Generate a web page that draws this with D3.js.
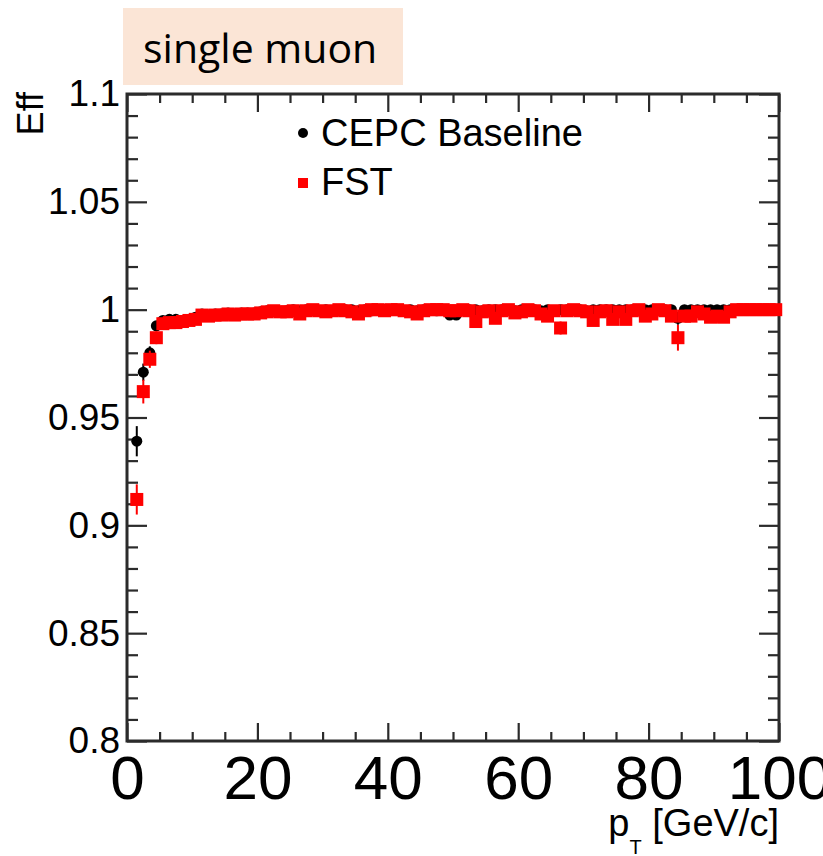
<!DOCTYPE html>
<html>
<head>
<meta charset="utf-8">
<script src="https://cdn.jsdelivr.net/npm/d3@7"></script>
<style>
  body { margin: 0; background: #fff; }
  svg { display: block; }
</style>
</head>
<body>
<svg id="chart" width="823" height="856"></svg>
<script>
// bin centres in pT [GeV/c]
var ptBins = [1.5, 2.5, 3.5, 4.5, 5.5, 6.5, 7.5, 8.5, 9.5, 10.5,
  11.5, 12.5, 13.5, 14.5, 15.5, 16.5, 17.5, 18.5, 19.5, 20.5,
  21.5, 22.5, 23.5, 24.5, 25.5, 26.5, 27.5, 28.5, 29.5, 30.5,
  31.5, 32.5, 33.5, 34.5, 35.5, 36.5, 37.5, 38.5, 39.5, 40.5,
  41.5, 42.5, 43.5, 44.5, 45.5, 46.5, 47.5, 48.5, 49.5, 50.5,
  51.5, 52.5, 53.5, 54.5, 55.5, 56.5, 57.5, 58.5, 59.5, 60.5,
  61.5, 62.5, 63.5, 64.5, 65.5, 66.5, 67.5, 68.5, 69.5, 70.5,
  71.5, 72.5, 73.5, 74.5, 75.5, 76.5, 77.5, 78.5, 79.5, 80.5,
  81.5, 82.5, 83.5, 84.5, 85.5, 86.5, 87.5, 88.5, 89.5, 90.5,
  91.5, 92.5, 93.5, 94.5, 95.5, 96.5, 97.5, 98.5, 99.5];

var effBaseline = [0.939, 0.971, 0.980, 0.9925, 0.995, 0.9955, 0.9955, 0.995, 0.9955, 0.9965,
  0.998, 0.9975, 0.998, 0.998, 0.9985, 0.998, 0.9985, 0.9985, 0.9985, 0.999,
  0.9995, 0.9995, 0.999, 0.9995, 1.0, 0.9995, 1.0, 1.0, 0.9995, 1.0,
  0.9995, 1.0, 1.0, 1.0, 0.9995, 1.0, 0.9995, 1.0, 1.0, 1.0,
  1.0, 0.9995, 1.0, 0.9995, 1.0, 1.0, 0.9995, 1.0, 0.9975, 0.9975,
  1.0, 1.0, 1.0, 0.9995, 1.0, 1.0, 1.0, 1.0, 0.9995, 1.0,
  1.0, 1.0, 0.9995, 1.0, 0.9995, 1.0, 1.0, 1.0, 1.0, 0.9995,
  1.0, 1.0, 1.0, 1.0, 1.0, 1.0, 1.0, 1.0, 1.0, 1.0,
  1.0, 1.0, 1.0, 0.996, 1.0, 1.0, 1.0, 1.0, 1.0, 1.0,
  1.0, 1.0, 1.0, 1.0, 1.0, 1.0, 1.0, 1.0, 1.0];

var errBaseline = [0.007, 0.004, 0.003, 0.002, 0.0015, 0.0015, 0.0015, 0.0015, 0.0015, 0.001,
  0.001, 0.001, 0.001, 0.001, 0.001, 0.001, 0.001, 0.001, 0.001, 0.001,
  0.001, 0.001, 0.001, 0.001, 0.001, 0.001, 0.001, 0.001, 0.001, 0.001,
  0.001, 0.001, 0.001, 0.001, 0.001, 0.001, 0.001, 0.001, 0.001, 0.001,
  0.001, 0.001, 0.001, 0.001, 0.001, 0.001, 0.001, 0.001, 0.002, 0.002,
  0.001, 0.001, 0.001, 0.001, 0.001, 0.001, 0.001, 0.001, 0.001, 0.001,
  0.001, 0.001, 0.001, 0.001, 0.001, 0.001, 0.001, 0.001, 0.001, 0.001,
  0.001, 0.001, 0.001, 0.001, 0.001, 0.001, 0.001, 0.001, 0.001, 0.001,
  0.001, 0.001, 0.001, 0.003, 0.001, 0.001, 0.001, 0.001, 0.001, 0.001,
  0.001, 0.001, 0.001, 0.001, 0.001, 0.001, 0.001, 0.001, 0.001];

var effFST = [0.912, 0.962, 0.977, 0.987, 0.9935, 0.994, 0.994, 0.9945, 0.995, 0.9955,
  0.9975, 0.997, 0.9975, 0.9975, 0.998, 0.9975, 0.998, 0.998, 0.998, 0.9985,
  0.999, 0.9995, 0.999, 0.999, 0.9995, 0.998, 0.9995, 1.0, 0.9995, 0.999,
  0.9995, 1.0, 0.9995, 0.999, 0.998, 0.9995, 1.0, 1.0, 0.9995, 1.0,
  1.0, 0.9995, 0.999, 0.998, 0.9995, 1.0, 1.0, 1.0, 0.9995, 0.9995,
  1.0, 0.9995, 0.9945, 0.999, 0.9995, 0.996, 0.9995, 1.0, 0.9985, 0.999,
  1.0, 0.9995, 0.998, 0.997, 0.9995, 0.9915, 0.9995, 1.0, 0.9995, 0.999,
  0.995, 0.999, 0.9995, 0.9955, 0.999, 0.9955, 0.9995, 1.0, 0.997, 0.998,
  1.0, 0.9995, 0.997, 0.987, 0.997, 0.997, 0.999, 0.998, 0.9965, 0.997,
  0.9965, 0.999, 1.0, 1.0, 1.0, 1.0, 1.0, 1.0, 1.0];

var errFST = [0.007, 0.0055, 0.004, 0.003, 0.002, 0.0015, 0.0015, 0.0015, 0.0015, 0.0015,
  0.001, 0.001, 0.001, 0.001, 0.001, 0.001, 0.001, 0.001, 0.001, 0.001,
  0.001, 0.001, 0.001, 0.001, 0.001, 0.001, 0.001, 0.001, 0.001, 0.001,
  0.001, 0.001, 0.001, 0.001, 0.001, 0.001, 0.001, 0.001, 0.001, 0.001,
  0.001, 0.001, 0.001, 0.001, 0.001, 0.001, 0.001, 0.001, 0.001, 0.001,
  0.001, 0.001, 0.003, 0.001, 0.001, 0.002, 0.001, 0.001, 0.001, 0.001,
  0.001, 0.001, 0.001, 0.002, 0.001, 0.003, 0.001, 0.001, 0.001, 0.001,
  0.002, 0.001, 0.001, 0.002, 0.001, 0.002, 0.001, 0.001, 0.002, 0.001,
  0.001, 0.001, 0.002, 0.006, 0.002, 0.002, 0.001, 0.001, 0.002, 0.002,
  0.002, 0.001, 0.001, 0.001, 0.001, 0.001, 0.001, 0.001, 0.001];

var xMajor = [0, 20, 40, 60, 80, 100];
var yMajor = [0.8, 0.85, 0.9, 0.95, 1.0, 1.05, 1.1];
var yLabels = ['0.8', '0.85', '0.9', '0.95', '1', '1.05', '1.1'];

var svg = d3.select('#chart');
var padL = 127, padR = 779, padT = 94, padB = 741;
var font = 'Liberation Sans, Arial, Helvetica, sans-serif';

var x = d3.scaleLinear().domain([0, 100]).range([padL, padR]);
var y = d3.scaleLinear().domain([0.8, 1.1]).range([padB, padT]);

// title box
svg.append('rect')
  .attr('x', 123).attr('y', 8).attr('width', 280).attr('height', 77)
  .attr('fill', '#fbe5d6');
svg.append('text')
  .attr('x', 143).attr('y', 63)
  .attr('font-family', 'Open Sans, Lato, sans-serif')
  .attr('font-size', 41)
  .attr('fill', '#000')
  .text('single muon');

// axes, ticks pointing inward on all four sides
var minorX = [5, 10, 15, 25, 30, 35, 45, 50, 55, 65, 70, 75, 85, 90, 95];
var minorY = d3.range(80, 111, 1).map(function (d) { return d / 100; })
  .filter(function (d) { return Math.round(d * 100) % 5 !== 0; });

var gx = svg.append('g').attr('transform', 'translate(0,' + padB + ')')
  .call(d3.axisBottom(x).tickValues(xMajor).tickSize(-18).tickSizeOuter(0).tickPadding(14)
    .tickFormat(d3.format('d')));
svg.append('g').attr('transform', 'translate(0,' + padB + ')')
  .call(d3.axisBottom(x).tickValues(minorX).tickSize(-9).tickSizeOuter(0).tickFormat(''));
svg.append('g').attr('transform', 'translate(0,' + padT + ')')
  .call(d3.axisTop(x).tickValues(xMajor).tickSize(-18).tickSizeOuter(0).tickFormat(''));
svg.append('g').attr('transform', 'translate(0,' + padT + ')')
  .call(d3.axisTop(x).tickValues(minorX).tickSize(-9).tickSizeOuter(0).tickFormat(''));

var gy = svg.append('g').attr('transform', 'translate(' + padL + ',0)')
  .call(d3.axisLeft(y).tickValues(yMajor).tickSize(-20).tickSizeOuter(0).tickPadding(7)
    .tickFormat(function (d, i) { return yLabels[i]; }));
svg.append('g').attr('transform', 'translate(' + padL + ',0)')
  .call(d3.axisLeft(y).tickValues(minorY).tickSize(-11).tickSizeOuter(0).tickFormat(''));
svg.append('g').attr('transform', 'translate(' + padR + ',0)')
  .call(d3.axisRight(y).tickValues(yMajor).tickSize(-20).tickSizeOuter(0).tickFormat(''));
svg.append('g').attr('transform', 'translate(' + padR + ',0)')
  .call(d3.axisRight(y).tickValues(minorY).tickSize(-11).tickSizeOuter(0).tickFormat(''));

svg.selectAll('.domain').remove();
svg.selectAll('.tick line').attr('stroke', '#2b2b2b').attr('stroke-width', 2.2);

gx.selectAll('text')
  .attr('font-family', font).attr('font-size', 62).attr('fill', '#000');
gy.selectAll('text')
  .attr('font-family', font).attr('font-size', 37).attr('fill', '#000');

// frame
svg.append('rect')
  .attr('x', padL).attr('y', padT)
  .attr('width', padR - padL).attr('height', padB - padT)
  .attr('fill', 'none').attr('stroke', '#2b2b2b').attr('stroke-width', 3);

// axis titles
svg.append('text')
  .attr('transform', 'translate(43,92) rotate(-90)')
  .attr('text-anchor', 'end')
  .attr('font-family', font).attr('font-size', 36).attr('fill', '#000')
  .text('Eff');

var xt = svg.append('text')
  .attr('x', padR).attr('y', 836)
  .attr('text-anchor', 'end')
  .attr('font-family', font).attr('font-size', 38).attr('fill', '#000');
xt.append('tspan').text('p');
xt.append('tspan').attr('font-size', 20).attr('dy', 18).text('T');
xt.append('tspan').attr('dy', -18).text(' [GeV/c]');

// data
var baseline = ptBins.map(function (p, i) { return { pt: p, v: effBaseline[i], e: errBaseline[i] }; });
var fst = ptBins.map(function (p, i) { return { pt: p, v: effFST[i], e: errFST[i] }; });

var plot = svg.append('g');

plot.selectAll('line.errB').data(baseline).enter().append('line')
  .attr('class', 'errB')
  .attr('x1', function (d) { return x(d.pt); }).attr('x2', function (d) { return x(d.pt); })
  .attr('y1', function (d) { return y(d.v - d.e); }).attr('y2', function (d) { return y(d.v + d.e); })
  .attr('stroke', '#000').attr('stroke-width', 2);
plot.selectAll('circle.ptB').data(baseline).enter().append('circle')
  .attr('class', 'ptB')
  .attr('cx', function (d) { return x(d.pt); })
  .attr('cy', function (d) { return y(d.v); })
  .attr('r', 5.5).attr('fill', '#000');

var sq = 13;
plot.selectAll('line.errF').data(fst).enter().append('line')
  .attr('class', 'errF')
  .attr('x1', function (d) { return x(d.pt); }).attr('x2', function (d) { return x(d.pt); })
  .attr('y1', function (d) { return y(d.v - d.e); }).attr('y2', function (d) { return y(d.v + d.e); })
  .attr('stroke', '#ff0000').attr('stroke-width', 2);
plot.selectAll('rect.ptF').data(fst).enter().append('rect')
  .attr('class', 'ptF')
  .attr('x', function (d) { return x(d.pt) - sq / 2; })
  .attr('y', function (d) { return y(d.v) - sq / 2; })
  .attr('width', sq).attr('height', sq)
  .attr('fill', '#ff0000');

// legend
var legend = svg.append('g');
legend.append('circle').attr('cx', 303).attr('cy', 133).attr('r', 5).attr('fill', '#000');
legend.append('text').attr('x', 321).attr('y', 146)
  .attr('font-family', font).attr('font-size', 38).attr('fill', '#000')
  .text('CEPC Baseline');
legend.append('rect').attr('x', 298).attr('y', 178).attr('width', 10).attr('height', 10)
  .attr('fill', '#ff0000');
legend.append('text').attr('x', 321).attr('y', 195)
  .attr('font-family', font).attr('font-size', 38).attr('fill', '#000')
  .text('FST');
</script>
</body>
</html>
